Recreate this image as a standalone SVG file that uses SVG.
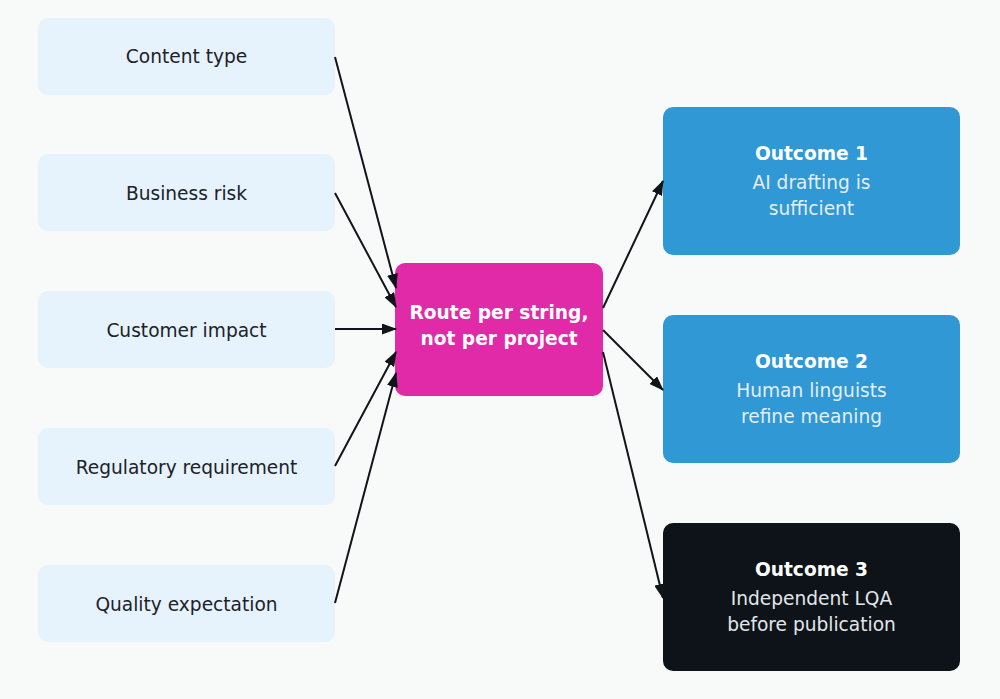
<svg xmlns="http://www.w3.org/2000/svg" width="1000" height="699" viewBox="0 0 1000 699">
<style>
text{font-family:"DejaVu Sans",sans-serif;font-size:18.6px;text-anchor:middle}
.in rect{fill:#e6f2fc}
.in text{fill:#1c2228}
.t{font-weight:bold;fill:#ffffff}
.s{fill:#e4eef7}
.c line{stroke:#111418;stroke-width:2;marker-end:url(#ah)}
</style>
<defs>
<marker id="ah" viewBox="0 0 15 11" refX="14" refY="5.5" markerWidth="15" markerHeight="11" markerUnits="userSpaceOnUse" orient="auto">
<path d="M0,0 L15,5.5 L0,11 Z" fill="#111418"/>
</marker>
</defs>
<rect width="1000" height="699" fill="#f8f9f9"/>
<g id="n-content" class="in"><rect x="38" y="18" width="297" height="77" rx="10"/><text x="186.5" y="63">Content type</text></g>
<g id="n-risk" class="in"><rect x="38" y="154" width="297" height="77" rx="10"/><text x="186.5" y="200">Business risk</text></g>
<g id="n-customer" class="in"><rect x="38" y="291" width="297" height="77" rx="10"/><text x="186.5" y="337">Customer impact</text></g>
<g id="n-regulatory" class="in"><rect x="38" y="428" width="297" height="77" rx="10"/><text x="186.5" y="474">Regulatory requirement</text></g>
<g id="n-quality" class="in"><rect x="38" y="565" width="297" height="77" rx="10"/><text x="186.5" y="611">Quality expectation</text></g>
<g id="n-route"><rect x="395" y="263" width="208" height="133" rx="10" fill="#e02aa8"/><text class="t" x="499" y="319">Route per string,</text><text class="t" x="499" y="345">not per project</text></g>
<g id="n-out1"><rect x="663" y="107" width="297" height="148" rx="10" fill="#2f98d5"/><text class="t" x="811.5" y="160">Outcome 1</text><text class="s" x="811.5" y="189">AI drafting is</text><text class="s" x="811.5" y="215">sufficient</text></g>
<g id="n-out2"><rect x="663" y="315" width="297" height="148" rx="10" fill="#2f98d5"/><text class="t" x="811.5" y="368">Outcome 2</text><text class="s" x="811.5" y="397">Human linguists</text><text class="s" x="811.5" y="423">refine meaning</text></g>
<g id="n-out3"><rect x="663" y="523" width="297" height="148" rx="10" fill="#0d1318"/><text class="t" x="811.5" y="576">Outcome 3</text><text class="s" x="811.5" y="605" style="fill:#e2e6ea">Independent LQA</text><text class="s" x="811.5" y="631" style="fill:#e2e6ea">before publication</text></g>
<g id="connectors" class="c">
<line x1="335" y1="57" x2="396" y2="288"/>
<line x1="335" y1="193" x2="396" y2="307"/>
<line x1="335" y1="329" x2="396" y2="329"/>
<line x1="335" y1="466" x2="396" y2="352"/>
<line x1="335" y1="603" x2="396" y2="373"/>
<line x1="603" y1="308" x2="663" y2="181"/>
<line x1="603" y1="330" x2="663" y2="390"/>
<line x1="603" y1="352" x2="663" y2="598"/>
</g>
</svg>
